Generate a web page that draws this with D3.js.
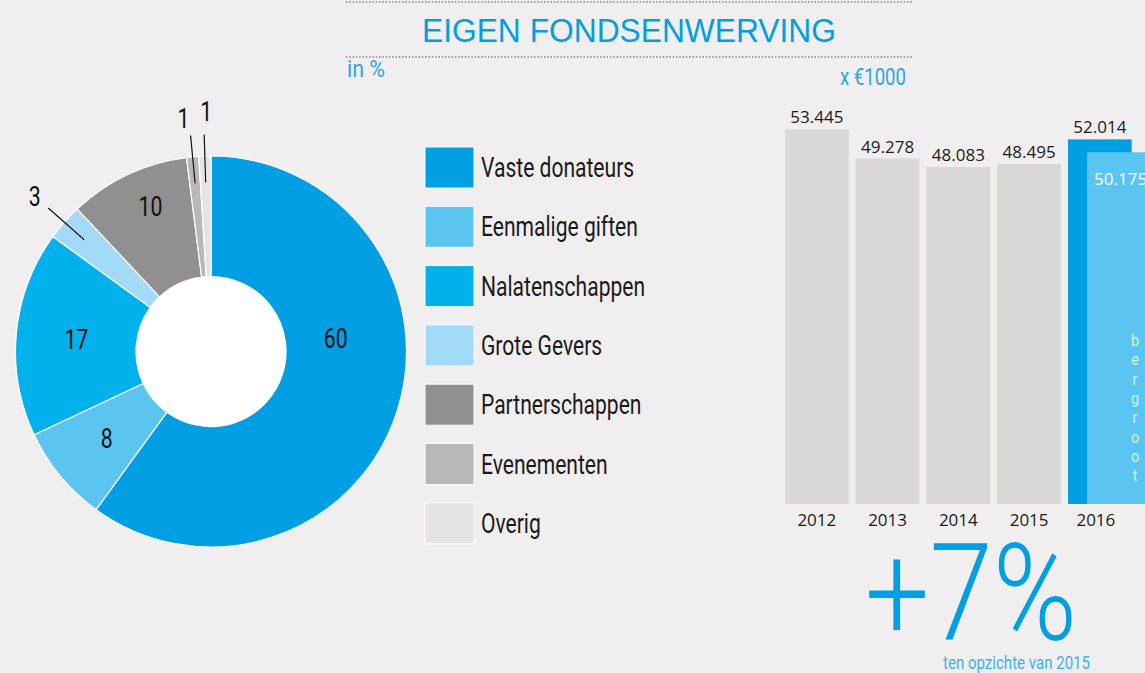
<!DOCTYPE html>
<html>
<head>
<meta charset="utf-8">
<script src="https://cdn.jsdelivr.net/npm/d3@7"></script>
<style>
  html, body { margin: 0; padding: 0; background: #f0eeef; }
  svg { display: block; }
  .narrow { font-family: Roboto, 'Liberation Sans', sans-serif; }
  .num { font-family: 'Open Sans', sans-serif; }
</style>
</head>
<body>
<svg width="1145" height="673"></svg>
<script>
'use strict';

// donut: share of own fundraising, in %
const categories = ["Vaste donateurs", "Eenmalige giften", "Nalatenschappen", "Grote Gevers",
    "Partnerschappen", "Evenementen", "Overig"];
const shares = [60, 8, 17, 3, 10, 1, 1];
const colors = ["#009fe3", "#5bc5f2", "#00b1eb", "#a2daf7", "#918f90", "#bab7b8", "#e5e4e5"];

// bars: x €1000
const years = ["2012", "2013", "2014", "2015", "2016"];
const income = [53445, 49278, 48083, 48495, 52014];
const budgetYear = "2016";
const budget = 50175;
const budgetWord = "bergroot";

const svg = d3.select("svg");
const nl = d3.formatLocale({ decimal: ",", thousands: ".", grouping: [3], currency: ["€", ""] });
const fmt = nl.format(",d");

// condensed look: Roboto squeezed horizontally
const squeeze = 0.78;
const at = (x, y, s = squeeze) => `translate(${x},${y}) scale(${s},1)`;

// header
const dots = (y) => svg.append("line")
    .attr("x1", 346).attr("x2", 913).attr("y1", y).attr("y2", y)
    .attr("stroke", "#9b9a9a").attr("stroke-width", 2).attr("stroke-dasharray", "1.4 1.9");
dots(2);
dots(57);

svg.append("text")
    .attr("x", 629).attr("y", 41.5)
    .attr("text-anchor", "middle")
    .attr("font-family", "'Liberation Sans', Arial, sans-serif")
    .attr("font-size", 33)
    .attr("textLength", 414).attr("lengthAdjust", "spacingAndGlyphs")
    .attr("fill", "#009fe3")
    .text("EIGEN FONDSENWERVING");

svg.append("text").attr("class", "narrow")
    .attr("x", 347).attr("y", 77)
    .attr("font-size", 24).attr("fill", "#2aa6e2")
    .attr("textLength", 38).attr("lengthAdjust", "spacingAndGlyphs")
    .text("in %");

svg.append("text").attr("class", "narrow")
    .attr("x", 840).attr("y", 84.5)
    .attr("font-size", 24).attr("fill", "#2aa6e2")
    .attr("textLength", 66).attr("lengthAdjust", "spacingAndGlyphs")
    .text("x €1000");

// ---------- donut ----------
const cx = 211, cy = 351.5, rOuter = 195.5, rInner = 75;
const pie = d3.pie().sort(null).value(d => d.value);
const arcs = pie(categories.map((c, i) => ({ name: c, value: shares[i], color: colors[i] })));
const arc = d3.arc().innerRadius(rInner).outerRadius(rOuter);

const donut = svg.append("g").attr("transform", `translate(${cx},${cy})`);
donut.append("circle").attr("r", rInner + 1).attr("fill", "#ffffff");
donut.selectAll("path.slice")
    .data(arcs)
    .join("path")
    .attr("class", "slice")
    .attr("d", arc)
    .attr("fill", d => d.data.color)
    .attr("stroke", "#ffffff")
    .attr("stroke-width", 1.2);

// labels: centroid for big slices, leader lines for tiny ones (with small nudges)
const labelNudge = {
    "Vaste donateurs": [-4, -55], "Partnerschappen": [-3, -23],
    "Evenementen": [-5.5, 0], "Overig": [2.5, -5.5]
};
const small = arcs.filter(d => d.data.value <= 3);
const big = arcs.filter(d => d.data.value > 3);
const polar = (a, r) => [Math.sin(a) * r, -Math.cos(a) * r];
const mid = d => (d.startAngle + d.endAngle) / 2;
const nudge = d => labelNudge[d.data.name] || [0, 0];

donut.selectAll("text.big")
    .data(big)
    .join("text")
    .attr("class", "big narrow")
    .attr("transform", d => {
        const [x, y] = arc.centroid(d);
        return at(x + nudge(d)[0], y + nudge(d)[1], 0.76);
    })
    .attr("text-anchor", "middle").attr("dy", "0.36em")
    .attr("font-size", 28).attr("fill", "#111")
    .text(d => d.data.value);

donut.selectAll("line.lead")
    .data(small)
    .join("line")
    .attr("class", "lead")
    .attr("x1", d => polar(mid(d), 169)[0]).attr("y1", d => polar(mid(d), 169)[1])
    .attr("x2", d => polar(mid(d), 217)[0]).attr("y2", d => polar(mid(d), 217)[1])
    .attr("stroke", "#111").attr("stroke-width", 1.2);

donut.selectAll("text.small")
    .data(small)
    .join("text")
    .attr("class", "small narrow")
    .attr("transform", d => {
        const [x, y] = polar(mid(d), 235);
        return at(x + nudge(d)[0], y + nudge(d)[1], 0.76);
    })
    .attr("text-anchor", "middle").attr("dy", "0.36em")
    .attr("font-size", 28).attr("fill", "#111")
    .text(d => d.data.value);

// ---------- legend ----------
const legend = svg.append("g").attr("transform", "translate(425,147)");
const row = legend.selectAll("g")
    .data(categories)
    .join("g")
    .attr("transform", (d, i) => `translate(0,${i * 59.3})`);
row.append("rect")
    .attr("width", 49).attr("height", 41)
    .attr("fill", (d, i) => colors[i])
    .attr("stroke", "#fbfbfb").attr("stroke-width", 1);
row.append("text").attr("class", "narrow")
    .attr("transform", at(56, 30))
    .attr("font-size", 27).attr("fill", "#1a1a1a")
    .text(d => d);

// ---------- bars ----------
const base = 504;
const x = d3.scaleBand().domain(years).range([785, 1131.7]).paddingInner(0.1).paddingOuter(0);
const y = d3.scaleLinear().domain([0, 55000]).range([base, base - 55 * 7.01]);

const bars = svg.append("g");
bars.selectAll("rect.bar")
    .data(years)
    .join("rect")
    .attr("class", "bar")
    .attr("x", d => x(d))
    .attr("y", (d, i) => y(income[i]))
    .attr("width", x.bandwidth())
    .attr("height", (d, i) => base - y(income[i]))
    .attr("fill", d => d === budgetYear ? "#009fe3" : "#dad7d6");

bars.selectAll("text.val")
    .data(years)
    .join("text")
    .attr("class", "val num")
    .attr("x", d => x(d) + x.bandwidth() / 2)
    .attr("y", (d, i) => y(income[i]) - 6)
    .attr("text-anchor", "middle")
    .attr("font-size", 17).attr("fill", "#1a1a1a")
    .text((d, i) => fmt(income[i]));

bars.selectAll("text.year")
    .data(years)
    .join("text")
    .attr("class", "year num")
    .attr("x", d => x(d) + x.bandwidth() / 2 - (d === budgetYear ? 4 : 0))
    .attr("y", 526)
    .attr("text-anchor", "middle")
    .attr("font-size", 17).attr("fill", "#1a1a1a")
    .text(d => d);

// budget bar, shifted right over the 2016 bar
const bx = x(budgetYear) + x.bandwidth() * 0.3;
bars.append("rect")
    .attr("x", bx).attr("y", y(budget))
    .attr("width", x.bandwidth()).attr("height", base - y(budget))
    .attr("fill", "#5bc5f2");
bars.append("text").attr("class", "num")
    .attr("x", bx + 7).attr("y", y(budget) + 33)
    .attr("font-size", 17).attr("fill", "#ffffff")
    .text(fmt(budget));
bars.selectAll("text.vert")
    .data(budgetWord.split(""))
    .join("text")
    .attr("class", "vert narrow")
    .attr("transform", (d, i) => at(1135, 346 + i * 19.3, 0.85))
    .attr("text-anchor", "middle")
    .attr("font-size", 17).attr("fill", "#ffffff").attr("fill-opacity", 0.75)
    .text(d => d);

// growth vs previous year
const growth = Math.round((income[4] - income[3]) / income[3] * 100);
svg.append("text")
    .attr("x", 865).attr("y", 640)
    .attr("font-family", "Roboto, sans-serif").attr("font-weight", 300)
    .attr("font-size", 136)
    .attr("textLength", 212).attr("lengthAdjust", "spacingAndGlyphs")
    .attr("fill", "#009fe3")
    .text(`+${growth}%`);
svg.append("text").attr("class", "narrow")
    .attr("x", 943).attr("y", 669)
    .attr("font-size", 19).attr("fill", "#3cb3ea")
    .attr("textLength", 147).attr("lengthAdjust", "spacingAndGlyphs")
    .text("ten opzichte van 2015");
</script>
</body>
</html>
